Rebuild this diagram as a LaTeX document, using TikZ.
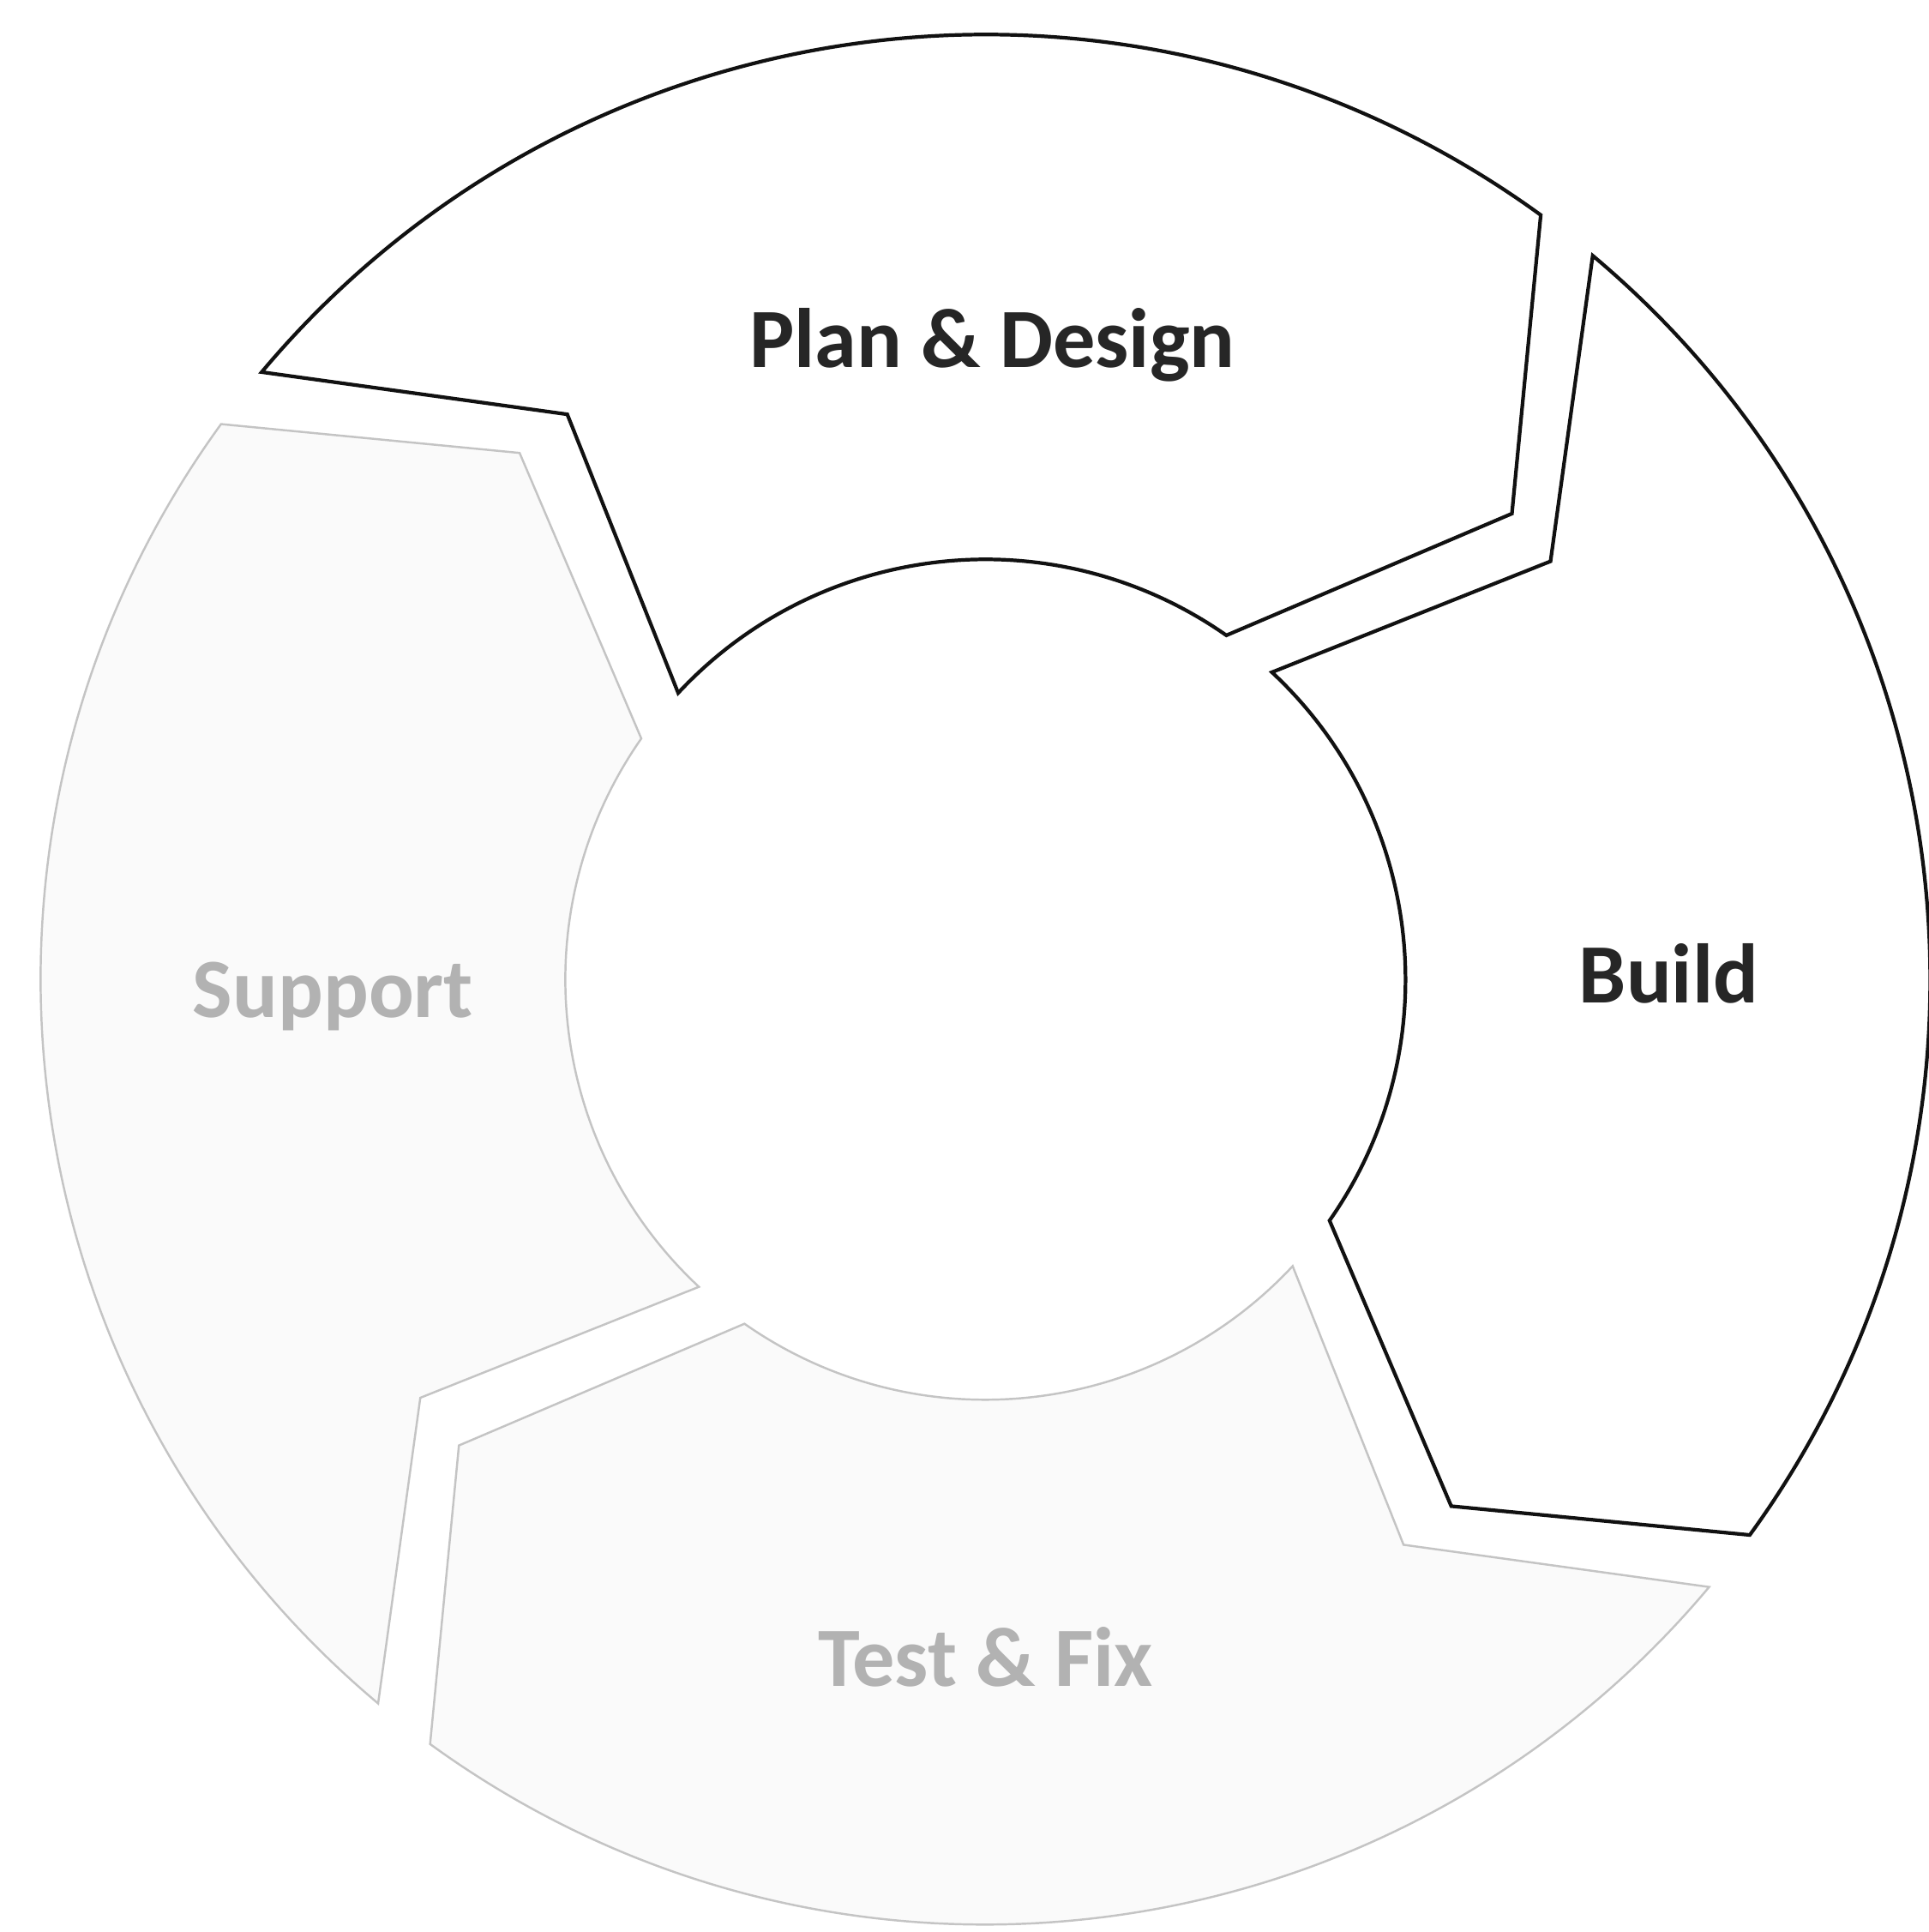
\documentclass[tikz,border=0pt]{standalone}
\usepackage{fontspec}
\setmainfont{Carlito}
\usepackage{tikz}
\usetikzlibrary{positioning, calc}
\definecolor{cycleline}{HTML}{111111}
\definecolor{cyclefade}{HTML}{C4C4C4}
\definecolor{cyclefill}{HTML}{FAFAFA}

\begin{document}
\begin{tikzpicture}[
    active/.style={draw=cycleline, fill=white, line width=1.2pt, line join=miter},
    faded/.style={draw=cyclefade, fill=cyclefill, line width=0.7pt, line join=miter},
    phase/.style={font=\bfseries\fontsize{28}{32}\selectfont, text=black!85, inner sep=2pt},
    fadedphase/.style={phase, text=black!30},
]
  \useasboundingbox (0,0) rectangle (22.5,22.53);
  \coordinate (c) at (11.494,11.107);

  % four chevron segments, clockwise from the top
  \begin{scope}[shift={(c)}]
    \foreach \o/\kind in {-180/faded, -270/faded, 0/active, -90/active}{
      \pgfmathsetmacro{\ta}{140+\o}
      \pgfmathsetmacro{\tb}{54+\o}
      \pgfmathsetmacro{\tc}{41.5+\o}
      \pgfmathsetmacro{\td}{55+\o}
      \pgfmathsetmacro{\te}{137+\o}
      \pgfmathsetmacro{\tf}{126.5+\o}
      \draw[\kind] (\ta:11.02) arc[start angle=\ta, end angle=\tb, radius=11.02]
        -- (\tc:8.2) -- (\td:4.9) arc[start angle=\td, end angle=\te, radius=4.9]
        -- (\tf:8.2) -- cycle;
    }
  \end{scope}

  \node[phase] (plan) at ($(c)+(0.08,7.40)$) {Plan \& Design};
  \node[phase] (build) at ($(c)+(7.97,0.07)$) {Build};
  \node[fadedphase] (test) at ($(c)+(0,-7.9)$) {Test \& Fix};
  \node[fadedphase] (support) at ($(c)+(-7.61,-0.2)$) {Support};
\end{tikzpicture}
\end{document}
